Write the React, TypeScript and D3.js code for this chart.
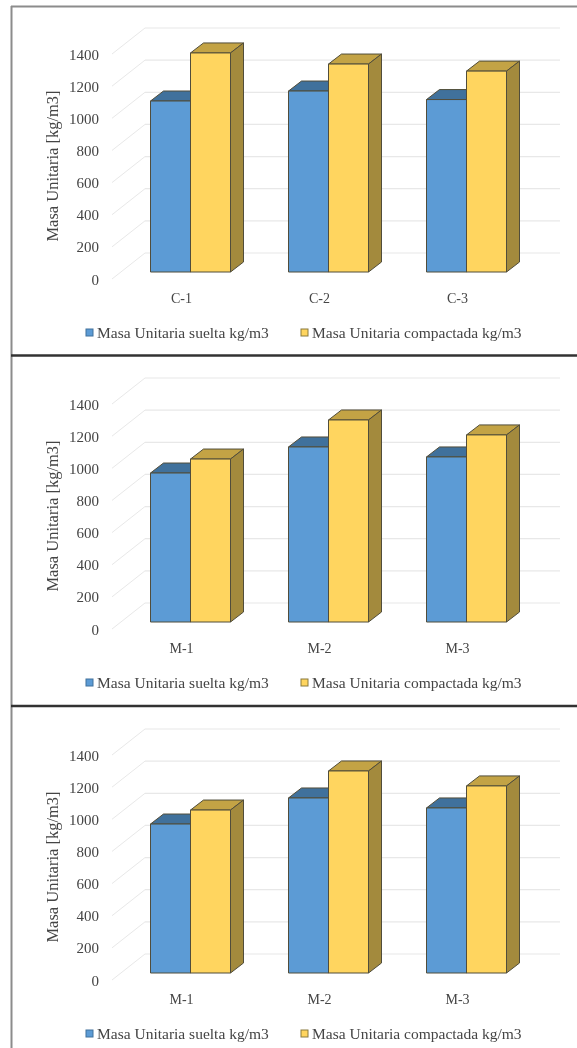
import React from "react";
import * as d3 from "d3";

const seriesNames = ["Masa Unitaria suelta kg/m3", "Masa Unitaria compactada kg/m3"];
const panelCategories = [["C-1", "C-2", "C-3"], ["M-1", "M-2", "M-3"], ["M-1", "M-2", "M-3"]];
const looseValues = [[1064, 1126, 1073], [927, 1089, 1027], [927, 1089, 1027]];
const compactValues = [[1363, 1294, 1250], [1014, 1257, 1164], [1014, 1257, 1164]];
const yTicks = [0, 200, 400, 600, 800, 1000, 1200, 1400];
const panelBaselines = [272, 622, 973];

const FONT = "'Liberation Serif', serif";
const TEXT = "#444";
const GRID = "#e8e8e8";

const fills = [
  { front: "#5b9bd5", top: "#41719c", side: "#41719c" },
  { front: "#ffd55f", top: "#c3a344", side: "#a38a3e" },
];

function Panel({ index }: { index: number }) {
  const base = panelBaselines[index];
  const y = d3.scaleLinear().domain([0, 1400]).range([base, base - 225]);
  const x = d3.scaleBand<string>().domain(panelCategories[index]).range([81.5, 495.5]).paddingInner(0.5).paddingOuter(0.25);
  const dx = 13;
  const dy = -10;
  const floorDx = 33;
  const floorDy = -26;
  const frontOffset = 7;
  const legendY = base + 66;
  const axisCenter = base - 105;
  return (
    <g>
      {yTicks.map((t) => {
        const yy = y(t) + frontOffset;
        return (
          <g key={t}>
            <path d={`M112,${yy}L${112 + floorDx},${yy + floorDy}`} stroke={GRID} fill="none" strokeWidth={1} />
            <line x1={112 + floorDx} x2={560} y1={yy + floorDy} y2={yy + floorDy} stroke={GRID} strokeWidth={1.2} />
            <text x={99} y={yy + 5.5} textAnchor="end" fontSize={15} fontFamily={FONT} fill={TEXT}>{t}</text>
          </g>
        );
      })}
      {panelCategories[index].map((c, i) => {
        const bw = 40;
        const cx = (x(c) as number) + x.bandwidth() / 2 + 40;
        const x0 = cx - bw;
        return (
          <g key={c}>
            {[looseValues[index][i], compactValues[index][i]].map((v, s) => {
              const xl = x0 + s * bw;
              const top = y(v);
              const st = { stroke: "#514d3a", strokeWidth: 1, strokeLinejoin: "round" as const };
              return (
                <g key={s}>
                  <path d={`M${xl},${top}l${dx},${dy}h${bw}l${-dx},${-dy}z`} fill={fills[s].top} {...st} />
                  <path d={`M${xl + bw},${top}l${dx},${dy}V${base + dy}l${-dx},${-dy}z`} fill={fills[s].side} {...st} />
                  <rect x={xl} y={top} width={bw} height={base - top} fill={fills[s].front} {...st} />
                </g>
              );
            })}
            <text x={cx - 9} y={base + 31} textAnchor="middle" fontSize={14} fontFamily={FONT} fill={TEXT}>{c}</text>
          </g>
        );
      })}
      <text transform={`translate(58,${axisCenter - 1}) rotate(-90)`} textAnchor="middle" fontSize={16.5} fontFamily={FONT} fill={TEXT}>Masa Unitaria [kg/m3]</text>
      <rect x={86} y={legendY - 9} width={7} height={7} fill={fills[0].front} stroke="#41719c" />
      <text x={97} y={legendY} fontSize={15.5} fontFamily={FONT} fill={TEXT}>{seriesNames[0]}</text>
      <rect x={301} y={legendY - 9} width={7} height={7} fill={fills[1].front} stroke="#8a7a3e" />
      <text x={312} y={legendY} fontSize={15.5} fontFamily={FONT} fill={TEXT}>{seriesNames[1]}</text>
    </g>
  );
}

export default function App() {
  return (
    <svg width={577} height={1048} style={{ position: "fixed", left: 0, top: 0, background: "#fff" }}>
      <defs>
        <filter id="soft" x="0" y="0" width="100%" height="100%">
          <feGaussianBlur stdDeviation={0.55} />
        </filter>
      </defs>
      <g filter="url(#soft)">
        <rect width={577} height={1048} fill="#fff" />
        {panelBaselines.map((_, i) => <Panel key={i} index={i} />)}
        <line x1={11.5} x2={11.5} y1={6} y2={1048} stroke="#8c8c8c" strokeWidth={2} />
        <line x1={11} x2={577} y1={6.5} y2={6.5} stroke="#8c8c8c" strokeWidth={2} />
        <line x1={11} x2={577} y1={355.5} y2={355.5} stroke="#333" strokeWidth={2.5} />
        <line x1={11} x2={577} y1={706} y2={706} stroke="#333" strokeWidth={2.5} />
      </g>
    </svg>
  );
}
